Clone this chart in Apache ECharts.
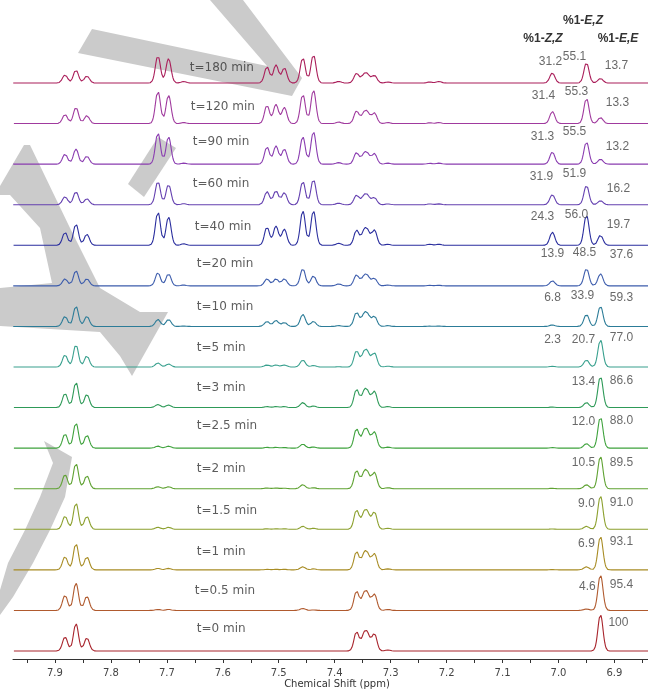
<!DOCTYPE html>
<html>
<head>
<meta charset="utf-8">
<script src="https://cdn.jsdelivr.net/npm/echarts@6/dist/echarts.min.js"></script>
<style>
  html, body { margin: 0; background: #fff; }
  #main { width: 648px; height: 689px; }
</style>
</head>
<body>
<div id="main"></div>
<script>
  // spectra, bottom (t=0) to top (t=180)
  const times = ['t=0 min', 't=0.5 min', 't=1 min', 't=1.5 min', 't=2 min', 't=2.5 min', 't=3 min',
    't=5 min', 't=10 min', 't=20 min', 't=40 min', 't=60 min', 't=90 min', 't=120 min', 't=180 min'];

  // peak positions (ppm)
  const peakPpm = [7.882, 7.8625, 7.843, 7.716, 7.697, 7.670, 7.521, 7.505, 7.490, 7.457, 7.438, 7.393,
    7.361, 7.348, 7.341, 7.329, 7.305, 7.230, 7.214, 7.011, 6.950, 6.925];

  // peak heights per spectrum, same order as peakPpm
  const peakHeights = [
    [14, 27, 13, 0, 0, 0, 0, 0, 0, 0, 0, 0, 19, 14, 14, 17, 1, 0, 0, 0, 0, 36],
    [15, 27, 14, 1, 1, 0, 0, 0, 0, 2, 0.5, 0, 19, 13.5, 13.5, 16, 1, 0, 0, 0, 1.5, 35],
    [13, 26, 13, 1.5, 1.5, 0, 0.5, 0.5, 0.5, 3, 1, 0, 18, 13, 13, 16, 1, 0, 0, 0.3, 3, 33],
    [13, 26, 13, 2, 2, 0, 0.5, 0.5, 0.5, 3, 1, 0, 19, 13.5, 13.5, 17, 1, 0, 0, 0.3, 3, 33],
    [14, 25, 13, 2, 2, 0, 0.7, 0.7, 0.5, 4, 1, 0, 18, 13, 13, 16, 1, 0, 0, 0.4, 4, 32],
    [14, 25, 13, 2, 2, 0, 0.8, 0.8, 0.6, 4, 1.2, 0, 19, 13.5, 13.5, 16, 1, 0, 0, 0.5, 4.5, 31],
    [14, 25, 13, 3, 2.5, 0, 1, 1, 1, 5, 1.5, 0, 18, 13, 13, 16, 1, 0, 0, 0.5, 5, 31],
    [12, 22, 11, 4, 3, 0, 2, 2, 2, 7, 1.5, 0.3, 16, 12, 12, 14, 0.8, 0, 0, 0.7, 7, 27],
    [10, 20, 10, 7, 7, 0.3, 5, 6, 4, 12, 5, 0.8, 14, 10, 10, 10, 0.8, 0.3, 0.3, 1.5, 12, 20],
    [7, 15, 7, 13, 12, 0.8, 7, 7, 7, 17, 10, 2, 11, 8, 8, 7.5, 0.8, 0.5, 0.5, 5, 17, 12],
    [13, 21, 11, 33, 28, 1.5, 18, 19, 16, 34, 34, 2, 15, 12, 12, 15, 1, 1, 1, 13, 30, 10],
    [8, 13, 6, 23, 20, 1, 13, 14, 12, 23, 25, 1.5, 9.5, 7.5, 7.5, 7, 0.8, 0.8, 0.8, 10, 19, 4],
    [10, 15, 8, 31, 27, 1, 17, 18, 15, 27, 32, 1.5, 11.5, 8.5, 8.5, 10.5, 1, 0.8, 1, 12, 22, 5],
    [9, 16, 8, 32, 28, 1, 18, 19, 16, 29, 33, 1.5, 12.5, 9, 9, 10.5, 1, 0.8, 1, 12, 25, 6],
    [8, 13, 7, 27, 24, 1.5, 16, 18, 15, 25, 28, 1.5, 9.5, 7, 7, 7.5, 1, 1, 1.5, 10, 20, 4.5]
  ];

  // isomer percentages per spectrum
  const pctZZ = [null, null, null, null, null, null, null, 2.3, 6.8, 13.9, 24.3, 31.9, 31.3, 31.4, 31.2];
  const pctEZ = [null, 4.6, 6.9, 9.0, 10.5, 12.0, 13.4, 20.7, 33.9, 48.5, 56.0, 51.9, 55.5, 55.3, 55.1];
  const pctEE = [100, 95.4, 93.1, 91.0, 89.5, 88.0, 86.6, 77.0, 59.3, 37.6, 19.7, 16.2, 13.2, 13.3, 13.7];

  const axisTicks = [7.95, 7.9, 7.85, 7.8, 7.75, 7.7, 7.65, 7.6, 7.55, 7.5, 7.45, 7.4, 7.35, 7.3,
    7.25, 7.2, 7.15, 7.1, 7.05, 7.0, 6.95, 6.9, 6.85];
  const axisLabels = [7.9, 7.8, 7.7, 7.6, 7.5, 7.4, 7.3, 7.2, 7.1, 7.0, 6.9];

  const colors = ['#a8242c', '#b05a2e', '#a88c24', '#8ca02e', '#5fa232', '#3ea23c', '#2e9a58',
    '#38a08e', '#2c7c98', '#3c5cac', '#2a2e9e', '#6440b0', '#8a3cb0', '#a03a9e', '#aa1e5a'];

  // layout: label positions (px x, px above baseline)
  const timeX = [197, 195, 197, 197, 197, 197, 197, 197, 197, 197, 195, 193, 193, 191, 190];
  const timeDy = [22, 20, 18, 18, 20, 22, 20, 19, 20, 22, 18, 21, 22, 17, 15];
  const zzX = [0, 0, 0, 0, 0, 0, 0, 553, 553, 553, 543, 542, 543, 544, 551];
  const zzDy = [0, 0, 0, 0, 0, 0, 0, 27, 29, 32, 29, 28, 27, 28, 21];
  const ezX = [0, 588, 587, 587, 584, 584, 584, 584, 583, 585, 577, 575, 575, 577, 575];
  const ezDy = [0, 24, 26, 26, 26, 26, 26, 27, 31, 33, 31, 31, 32, 32, 26];
  const eeX = [619, 622, 622, 622, 622, 622, 622, 622, 622, 622, 619, 619, 618, 618, 617];
  const eeDy = [28, 26, 28, 27, 26, 27, 27, 29, 29, 31, 21, 16, 17, 21, 17];

  const STACK = 40;        // vertical offset between spectra
  const SIG = 0.0045;      // line width (ppm)
  const X_MIN = 6.84, X_MAX = 7.975;
  const pxPerUnit = 568 / 560;
  const px2ppm = x => 7.9 - (x - 55) / 560;

  function spectrum(row) {
    const h = peakHeights[row];
    const pts = [];
    for (let x = X_MIN; x <= X_MAX + 1e-9; x += 0.0006) {
      let y = 0;
      for (let k = 0; k < peakPpm.length; k++) {
        if (!h[k]) continue;
        const d = (x - peakPpm[k]) / SIG;
        if (Math.abs(d) > 8) continue;
        y += h[k] * Math.exp(-0.5 * d * d);
      }
      pts.push([x, row * STACK + y]);
    }
    return pts;
  }

  const series = times.map((t, i) => ({
    type: 'line',
    name: t,
    data: spectrum(i),
    showSymbol: false,
    symbol: 'none',
    silent: true,
    z: 3,
    lineStyle: { width: 1.1, color: colors[i] },
    itemStyle: { color: colors[i] }
  }));

  const timeLabels = times.map((t, i) => ({
    value: [px2ppm(timeX[i]), i * STACK + timeDy[i] / pxPerUnit],
    label: { formatter: t }
  }));

  const fmt = v => (v === 100 ? '100' : v.toFixed(1));
  const pctLabels = [];
  times.forEach((t, i) => {
    [[pctZZ, zzX, zzDy], [pctEZ, ezX, ezDy], [pctEE, eeX, eeDy]].forEach(([vals, xs, dys]) => {
      if (vals[i] == null) return;
      pctLabels.push({
        value: [px2ppm(xs[i]), i * STACK + dys[i] / pxPerUnit],
        label: { formatter: fmt(vals[i]) }
      });
    });
  });

  series.push({
    type: 'scatter',
    data: timeLabels,
    symbolSize: 0,
    silent: true,
    z: 4,
    label: {
      show: true, position: 'inside', align: 'left', verticalAlign: 'middle',
      fontFamily: 'DejaVu Sans', fontSize: 12, color: '#333'
    }
  });
  series.push({
    type: 'scatter',
    data: pctLabels,
    symbolSize: 0,
    silent: true,
    z: 4,
    label: {
      show: true, position: 'inside', align: 'center', verticalAlign: 'middle',
      fontFamily: 'Liberation Sans', fontSize: 12, color: '#444'
    }
  });

  const gray = '#cbcbcb';
  const headStyle = {
    fontFamily: 'Liberation Sans', fontSize: 12, fill: '#333', align: 'center', verticalAlign: 'middle',
    rich: {
      b: { fontFamily: 'Liberation Sans', fontSize: 12, fontWeight: 'bold', color: '#333' },
      bi: { fontFamily: 'Liberation Sans', fontSize: 12, fontWeight: 'bold', fontStyle: 'italic', color: '#333' }
    }
  };

  const chart = echarts.init(document.getElementById('main'), null, { renderer: 'canvas' });
  const option = {
    animation: false,
    backgroundColor: '#fff',
    grid: { left: 13, right: 0, top: 0, bottom: 30, containLabel: false, outerBoundsMode: 'none' },
    xAxis: {
      type: 'value',
      inverse: true,
      min: X_MIN,
      max: X_MAX,
      name: 'Chemical Shift (ppm)',
      nameLocation: 'middle',
      nameGap: 20,
      nameMoveOverlap: false,
      nameTextStyle: { fontFamily: 'DejaVu Sans', fontSize: 10, color: '#333', padding: [0, 0, 0, 13] },
      splitLine: { show: false },
      axisLine: { show: true, onZero: false, lineStyle: { color: '#333', width: 1 } },
      axisTick: { show: true, inside: false, length: 4, customValues: axisTicks, lineStyle: { color: '#333' } },
      axisLabel: {
        show: true, margin: 9, customValues: axisLabels,
        fontFamily: 'DejaVu Sans', fontSize: 10, color: '#444',
        formatter: v => v.toFixed(1)
      }
    },
    yAxis: {
      type: 'value',
      show: false,
      min: -8 / pxPerUnit,
      max: 14 * STACK + 83 / pxPerUnit
    },
    graphic: [
      // watermark strokes behind the spectra
      { type: 'polygon', z: 0, silent: true, shape: { points: [[92, 29], [267, 66], [210, 0], [243, 0], [302, 78], [292, 96], [78, 53]] }, style: { fill: gray } },
      { type: 'polygon', z: 0, silent: true, shape: { points: [[128, 184], [158, 137], [176, 148], [144, 197]] }, style: { fill: gray } },
      { type: 'polygon', z: 0, silent: true, shape: { points: [[24, 145], [30, 145], [70, 228], [100, 288], [140, 312], [168, 312], [132, 376], [120, 356], [100, 332], [0, 326], [0, 288], [52, 283], [40, 228], [10, 195], [0, 195], [0, 186]] }, style: { fill: gray } },
      { type: 'polygon', z: 0, silent: true, shape: { points: [[44, 441], [72, 457], [65, 497], [50, 530], [33, 563], [13, 597], [0, 615], [0, 590], [8, 563], [25, 530], [40, 497], [53, 463]] }, style: { fill: gray } },
      // column headers
      { type: 'text', z: 10, x: 583, y: 21, style: Object.assign({ text: '{b|%1-}{bi|E,Z}' }, headStyle) },
      { type: 'text', z: 10, x: 543, y: 39, style: Object.assign({ text: '{b|%1-}{bi|Z,Z}' }, headStyle) },
      { type: 'text', z: 10, x: 618, y: 39, style: Object.assign({ text: '{b|%1-}{bi|E,E}' }, headStyle) }
    ],
    series: series
  };

  if (option && typeof option === 'object') {
    chart.setOption(option);
  }
  window.addEventListener('resize', chart.resize);
</script>
</body>
</html>
